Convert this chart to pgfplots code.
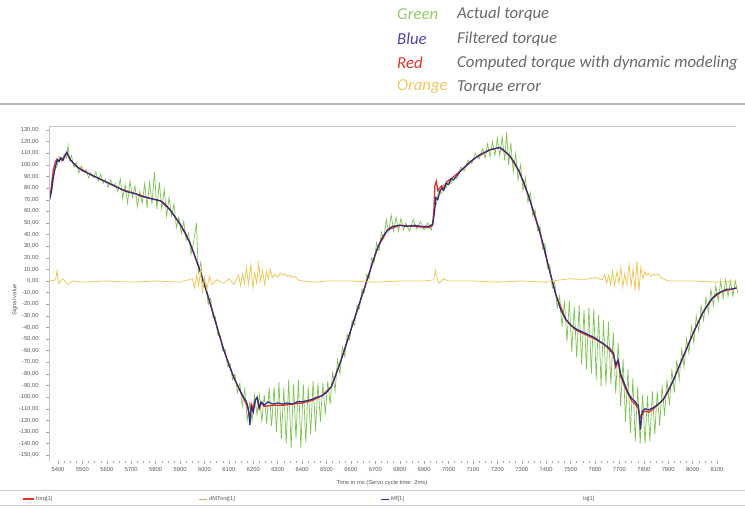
\documentclass[border=0pt]{standalone}
\usepackage{fontspec}
\setmainfont{Liberation Sans}
\newfontfamily\hdr{Carlito}
\usepackage{pgfplots}
\pgfplotsset{compat=1.18}

\definecolor{actgreen}{RGB}{125,195,80}
\definecolor{filtblue}{RGB}{45,45,130}
\definecolor{hdrblue}{RGB}{80,68,178}
\definecolor{comred}{RGB}{225,50,40}
\definecolor{errorange}{RGB}{238,200,95}
\definecolor{hdrgray}{RGB}{105,105,105}
\definecolor{txtgray}{RGB}{90,90,90}

\begin{document}
\begin{tikzpicture}[x=1bp,y=1bp]
\path[use as bounding box] (0,0) rectangle (745,508);

% header key
\begin{scope}[font=\hdr\itshape\fontsize{16.8}{18}\selectfont]
\node[anchor=west, inner sep=0pt, text=actgreen!85]  at (397,494) {Green};
\node[anchor=west, inner sep=0pt, text=hdrblue] at (397,469) {Blue};
\node[anchor=west, inner sep=0pt, text=comred]    at (397,445) {Red};
\node[anchor=west, inner sep=0pt, text=errorange] at (397,421) {Orange};
\node[anchor=west, inner sep=0pt, text=hdrgray] at (457,494) {Actual torque};
\node[anchor=west, inner sep=0pt, text=hdrgray] at (457,469) {Filtered torque};
\node[anchor=west, inner sep=0pt, text=hdrgray] at (457,445) {Computed torque with dynamic modeling};
\node[anchor=west, inner sep=0pt, text=hdrgray] at (457,421) {Torque error};
\end{scope}
\draw[gray!55, line width=1.5bp] (0,404) -- (745,404);

\begin{axis}[
    at={(49bp,47bp)}, anchor=south west,
    width=689bp, height=335bp, scale only axis,
    xmin=5363, xmax=8186,
    ymin=-155, ymax=133.5,
    axis line style={draw=none},
    xtick={5400,5500,...,8100},
    ytick={-150,-140,...,130},
    minor x tick num=3,
    xtick pos=bottom, ytick pos=left,
    tick align=outside,
    major tick length=3bp, minor tick length=2bp,
    every tick/.style={gray!70},
    scaled ticks=false,
    tick label style={font=\fontsize{5.8}{6}\selectfont, text=txtgray,
        /pgf/number format/assume math mode=true},
    x tick label style={/pgf/number format/1000 sep={}},
    y tick label style={xshift=-4bp, /pgf/number format/.cd, fixed, fixed zerofill,
        precision=2, use comma, 1000 sep={}},
]

% actual torque (green)
\addplot[actgreen, line width=0.7bp] table[row sep=\\] {
5365 72\\ 5375 77\\ 5385 96\\ 5395 98\\ 5405 107\\ 5415 103\\ 5425 109\\ 5435 106\\
5441 117\\ 5447 104\\ 5455 108\\ 5465 98\\ 5475 102\\ 5485 93\\ 5495 99\\ 5505 94\\
5515 96\\ 5525 89\\ 5535 93\\ 5545 89\\ 5555 94\\ 5565 86\\ 5575 92\\ 5585 84\\
5595 88\\ 5605 81\\ 5615 87\\ 5625 82\\ 5635 84\\ 5645 77\\ 5655 88\\ 5665 71\\
5675 83\\ 5685 67\\ 5695 86\\ 5705 72\\ 5715 82\\ 5725 64\\ 5735 77\\ 5745 67\\
5755 84\\ 5765 63\\ 5775 85\\ 5785 66\\ 5795 94\\ 5805 62\\ 5815 85\\ 5825 62\\
5835 79\\ 5845 56\\ 5855 72\\ 5865 56\\ 5875 66\\ 5885 46\\ 5895 55\\ 5905 41\\
5915 51\\ 5925 35\\ 5935 41\\ 5945 23\\ 5955 33\\ 5967 50\\ 5975 7\\ 5985 16\\
5995 -5\\ 6005 -1\\ 6015 -20\\ 6025 -15\\ 6035 -32\\ 6045 -31\\ 6055 -47\\ 6065 -47\\
6075 -60\\ 6085 -59\\ 6095 -74\\ 6105 -71\\ 6115 -85\\ 6125 -80\\ 6135 -96\\ 6145 -88\\
6155 -108\\ 6165 -93\\ 6175 -120\\ 6185 -105\\ 6195 -120\\ 6205 -98\\ 6215 -115\\ 6225 -98\\
6235 -121\\ 6245 -98\\ 6255 -123\\ 6265 -92\\ 6275 -125\\ 6285 -91\\ 6295 -130\\ 6305 -87\\
6315 -136\\ 6325 -92\\ 6335 -140\\ 6345 -85\\ 6355 -144\\ 6365 -89\\ 6375 -136\\ 6385 -85\\
6395 -144\\ 6405 -89\\ 6415 -139\\ 6425 -91\\ 6435 -132\\ 6445 -86\\ 6455 -129\\ 6465 -88\\
6475 -121\\ 6485 -88\\ 6495 -115\\ 6505 -86\\ 6515 -106\\ 6525 -78\\ 6535 -95\\ 6545 -68\\
6555 -80\\ 6565 -57\\ 6575 -65\\ 6585 -46\\ 6595 -51\\ 6605 -34\\ 6615 -38\\ 6625 -21\\
6635 -24\\ 6645 -7\\ 6655 -10\\ 6665 6\\ 6675 2\\ 6685 20\\ 6695 16\\ 6705 33\\
6715 26\\ 6725 42\\ 6735 36\\ 6745 53\\ 6755 42\\ 6765 57\\ 6775 43\\ 6785 55\\
6795 43\\ 6805 54\\ 6815 44\\ 6825 50\\ 6840 43\\ 6855 53\\ 6870 45\\ 6885 51\\
6900 44\\ 6915 50\\ 6930 44\\ 6942 62\\ 6950 66\\ 6960 79\\ 6970 75\\ 6980 83\\
6990 80\\ 7000 87\\ 7010 84\\ 7020 90\\ 7035 88\\ 7050 98\\ 7065 95\\ 7080 104\\
7095 101\\ 7110 110\\ 7125 105\\ 7140 114\\ 7150 106\\ 7160 118\\ 7170 107\\ 7180 120\\
7190 108\\ 7200 123\\ 7210 108\\ 7220 124\\ 7230 104\\ 7238 128\\ 7246 100\\ 7255 119\\
7265 94\\ 7275 110\\ 7285 87\\ 7295 100\\ 7305 78\\ 7315 89\\ 7325 68\\ 7335 76\\
7345 56\\ 7355 61\\ 7365 43\\ 7375 47\\ 7385 28\\ 7395 32\\ 7405 11\\ 7415 14\\
7425 -6\\ 7435 -1\\ 7445 -23\\ 7455 -13\\ 7465 -39\\ 7475 -17\\ 7485 -52\\ 7495 -17\\
7505 -61\\ 7515 -22\\ 7525 -66\\ 7535 -21\\ 7545 -72\\ 7555 -25\\ 7565 -76\\ 7575 -23\\
7585 -80\\ 7595 -24\\ 7605 -85\\ 7615 -29\\ 7625 -91\\ 7635 -34\\ 7645 -90\\ 7655 -35\\
7665 -89\\ 7675 -44\\ 7685 -97\\ 7695 -53\\ 7705 -108\\ 7715 -67\\ 7725 -121\\ 7735 -76\\
7745 -131\\ 7755 -84\\ 7765 -138\\ 7775 -91\\ 7785 -140\\ 7795 -98\\ 7805 -140\\ 7815 -99\\
7825 -138\\ 7835 -95\\ 7845 -132\\ 7855 -95\\ 7865 -125\\ 7875 -90\\ 7885 -116\\ 7895 -85\\
7905 -107\\ 7915 -76\\ 7925 -96\\ 7935 -68\\ 7945 -85\\ 7955 -59\\ 7965 -74\\ 7975 -50\\
7985 -62\\ 7995 -39\\ 8005 -53\\ 8015 -30\\ 8025 -43\\ 8035 -21\\ 8045 -34\\ 8055 -14\\
8065 -27\\ 8075 -7\\ 8085 -21\\ 8095 -4\\ 8105 -17\\ 8115 0\\ 8125 -15\\ 8135 1\\
8145 -13\\ 8155 0\\ 8165 -13\\ 8175 0\\ 8185 -10\\
};

% computed torque (red)
\addplot[comred, line width=1.3bp] table[row sep=\\] {
5365 70\\ 5372 80\\ 5380 95\\ 5388 102\\ 5396 105\\ 5404 103\\ 5412 106\\ 5420 104\\
5428 108\\ 5436 110\\ 5444 107\\ 5452 104\\ 5480 98\\ 5540 91\\ 5600 85\\ 5660 79\\
5720 75\\ 5780 71\\ 5820 69\\ 5860 61\\ 5900 49\\ 5940 33\\ 5980 10\\ 6010 -10\\
6045 -35\\ 6080 -60\\ 6120 -83\\ 6160 -101\\ 6172 -106\\ 6180 -112\\ 6186 -118\\ 6192 -106\\
6200 -110\\ 6208 -102\\ 6216 -101\\ 6224 -110\\ 6232 -105\\ 6245 -108\\ 6280 -107\\ 6320 -107\\
6360 -106\\ 6400 -105\\ 6440 -103\\ 6480 -99\\ 6520 -91\\ 6560 -68\\ 6600 -42\\ 6640 -16\\
6665 0\\ 6710 29\\ 6750 44\\ 6800 48\\ 6860 47\\ 6920 46\\ 6935 48\\ 6940 62\\
6944 82\\ 6950 86\\ 6956 78\\ 6964 80\\ 6972 82\\ 6980 79\\ 6990 85\\ 7010 88\\
7050 95\\ 7110 106\\ 7170 113\\ 7210 115\\ 7250 108\\ 7290 94\\ 7330 72\\ 7370 45\\
7410 12\\ 7440 -12\\ 7480 -33\\ 7520 -42\\ 7560 -46\\ 7600 -50\\ 7640 -55\\ 7675 -63\\
7685 -74\\ 7695 -69\\ 7705 -82\\ 7720 -90\\ 7735 -97\\ 7750 -103\\ 7765 -106\\ 7778 -110\\
7786 -118\\ 7794 -114\\ 7805 -112\\ 7820 -113\\ 7840 -110\\ 7860 -106\\ 7880 -102\\ 7920 -86\\
7960 -66\\ 8000 -46\\ 8040 -28\\ 8080 -15\\ 8120 -9\\ 8180 -6\\
};

% filtered torque (blue)
\addplot[filtblue, line width=1.2bp] table[row sep=\\] {
5365 70\\ 5372 76\\ 5380 88\\ 5388 97\\ 5396 104\\ 5404 103\\ 5412 106\\ 5420 104\\
5428 108\\ 5436 111\\ 5444 107\\ 5452 104\\ 5465 101\\ 5480 98\\ 5500 95\\ 5520 93\\
5540 91\\ 5560 89\\ 5580 87\\ 5600 85\\ 5620 83\\ 5640 81\\ 5660 79\\ 5680 77\\
5700 76\\ 5720 75\\ 5740 73\\ 5760 72\\ 5780 71\\ 5800 70\\ 5820 69\\ 5840 66\\
5860 61\\ 5880 55\\ 5900 49\\ 5920 42\\ 5940 33\\ 5960 22\\ 5980 10\\ 5995 0\\
6010 -10\\ 6030 -24\\ 6045 -35\\ 6060 -46\\ 6080 -60\\ 6100 -72\\ 6120 -83\\ 6140 -92\\
6160 -100\\ 6172 -104\\ 6180 -110\\ 6186 -124\\ 6192 -108\\ 6200 -113\\ 6208 -103\\ 6216 -100\\
6224 -109\\ 6232 -104\\ 6245 -107\\ 6260 -104\\ 6280 -106\\ 6300 -105\\ 6320 -106\\ 6340 -105\\
6360 -106\\ 6380 -104\\ 6400 -104\\ 6420 -103\\ 6440 -102\\ 6460 -100\\ 6480 -99\\ 6500 -96\\
6520 -91\\ 6540 -80\\ 6560 -68\\ 6580 -55\\ 6600 -42\\ 6620 -29\\ 6640 -16\\ 6665 0\\
6690 17\\ 6710 29\\ 6730 38\\ 6750 44\\ 6770 47\\ 6800 48\\ 6830 47\\ 6860 48\\
6890 47\\ 6920 47\\ 6935 49\\ 6942 58\\ 6948 72\\ 6956 70\\ 6964 77\\ 6972 80\\
6980 78\\ 6990 84\\ 7000 83\\ 7010 88\\ 7020 87\\ 7035 91\\ 7050 95\\ 7070 99\\
7090 103\\ 7110 106\\ 7130 109\\ 7150 111\\ 7170 113\\ 7190 114\\ 7210 115\\ 7230 112\\
7250 108\\ 7270 102\\ 7290 94\\ 7310 84\\ 7330 72\\ 7350 58\\ 7370 45\\ 7390 30\\
7410 12\\ 7425 0\\ 7440 -12\\ 7460 -25\\ 7480 -33\\ 7500 -38\\ 7520 -41\\ 7540 -43\\
7560 -45\\ 7580 -47\\ 7600 -49\\ 7620 -52\\ 7640 -55\\ 7660 -58\\ 7675 -62\\ 7685 -72\\
7695 -68\\ 7705 -80\\ 7720 -88\\ 7735 -96\\ 7750 -101\\ 7765 -104\\ 7778 -108\\ 7786 -128\\
7794 -112\\ 7805 -110\\ 7820 -111\\ 7840 -109\\ 7860 -106\\ 7880 -102\\ 7900 -95\\ 7920 -86\\
7940 -76\\ 7960 -66\\ 7980 -56\\ 8000 -46\\ 8020 -37\\ 8040 -28\\ 8060 -21\\ 8080 -15\\
8100 -11\\ 8120 -9\\ 8140 -7\\ 8160 -7\\ 8180 -6\\
};

% torque error (orange)
\addplot[errorange, line width=0.8bp] table[row sep=\\] {
5365 0\\ 5390 1\\ 5396 9\\ 5402 -2\\ 5420 2\\ 5440 -3\\ 5460 0\\ 5500 -1\\
5600 0\\ 5700 -1\\ 5800 0\\ 5900 -1\\ 5950 2\\ 5960 -6\\ 5968 5\\ 5976 -4\\
5984 8\\ 5992 -9\\ 6000 3\\ 6010 -7\\ 6020 4\\ 6030 -3\\ 6050 1\\ 6080 -2\\
6100 2\\ 6120 -3\\ 6140 5\\ 6148 -4\\ 6156 6\\ 6164 -2\\ 6172 12\\ 6180 -3\\
6190 14\\ 6198 -6\\ 6206 7\\ 6214 -2\\ 6222 15\\ 6230 0\\ 6238 9\\ 6246 -3\\
6254 8\\ 6262 2\\ 6270 10\\ 6278 3\\ 6290 6\\ 6300 3\\ 6310 7\\ 6320 5\\
6330 6\\ 6340 4\\ 6350 5\\ 6360 3\\ 6370 4\\ 6385 1\\ 6400 0\\ 6450 -1\\
6500 0\\ 6600 0\\ 6700 -1\\ 6800 0\\ 6900 0\\ 6940 1\\ 6946 9\\ 6952 4\\
6960 -2\\ 6980 2\\ 7000 0\\ 7100 0\\ 7200 -1\\ 7300 0\\ 7400 -1\\ 7420 0\\
7500 2\\ 7550 1\\ 7600 3\\ 7630 1\\ 7640 6\\ 7648 -2\\ 7656 5\\ 7664 -3\\
7672 9\\ 7680 -4\\ 7690 8\\ 7698 -2\\ 7706 12\\ 7714 -5\\ 7722 6\\ 7730 -3\\
7740 14\\ 7748 -4\\ 7756 10\\ 7764 -8\\ 7772 17\\ 7780 -9\\ 7788 12\\ 7796 2\\
7804 8\\ 7812 5\\ 7820 7\\ 7830 4\\ 7840 6\\ 7850 5\\ 7860 6\\ 7870 3\\
7880 2\\ 7900 0\\ 8000 0\\ 8100 -1\\ 8180 0\\
};
\end{axis}

% frame lines of the plot area
\draw[gray!45, line width=0.8bp] (49,47) -- (49,382) -- (736,382);

% axis titles
\node[rotate=90, font=\fontsize{5.8}{6}\selectfont, text=txtgray] at (15,208) {Signal value};
\node[font=\fontsize{5.8}{6}\selectfont, text=txtgray] at (382,25) {Time in ms (Servo cycle time: 2ms)};

% bottom series strip
\draw[gray!40, line width=1bp] (0,17) -- (745,17);
\draw[gray!40, line width=1bp] (0,2) -- (745,2);
\begin{scope}[font=\fontsize{5.8}{6}\selectfont, text=txtgray]
\draw[comred, line width=1.2bp] (23,9) -- (34,9);
\node[anchor=west, inner sep=1bp] at (35,9) {torq[1]};
\draw[errorange!60!gray, line width=0.6bp] (199,9) -- (207,9);
\node[anchor=west, inner sep=1bp] at (208,9) {dMTorq[1]};
\draw[filtblue, line width=0.8bp] (381,9) -- (389,9);
\node[anchor=west, inner sep=1bp] at (390,9) {Mf[1]};
\node[anchor=west, inner sep=1bp] at (582,9) {tq[1]};
\end{scope}
\end{tikzpicture}
\end{document}
